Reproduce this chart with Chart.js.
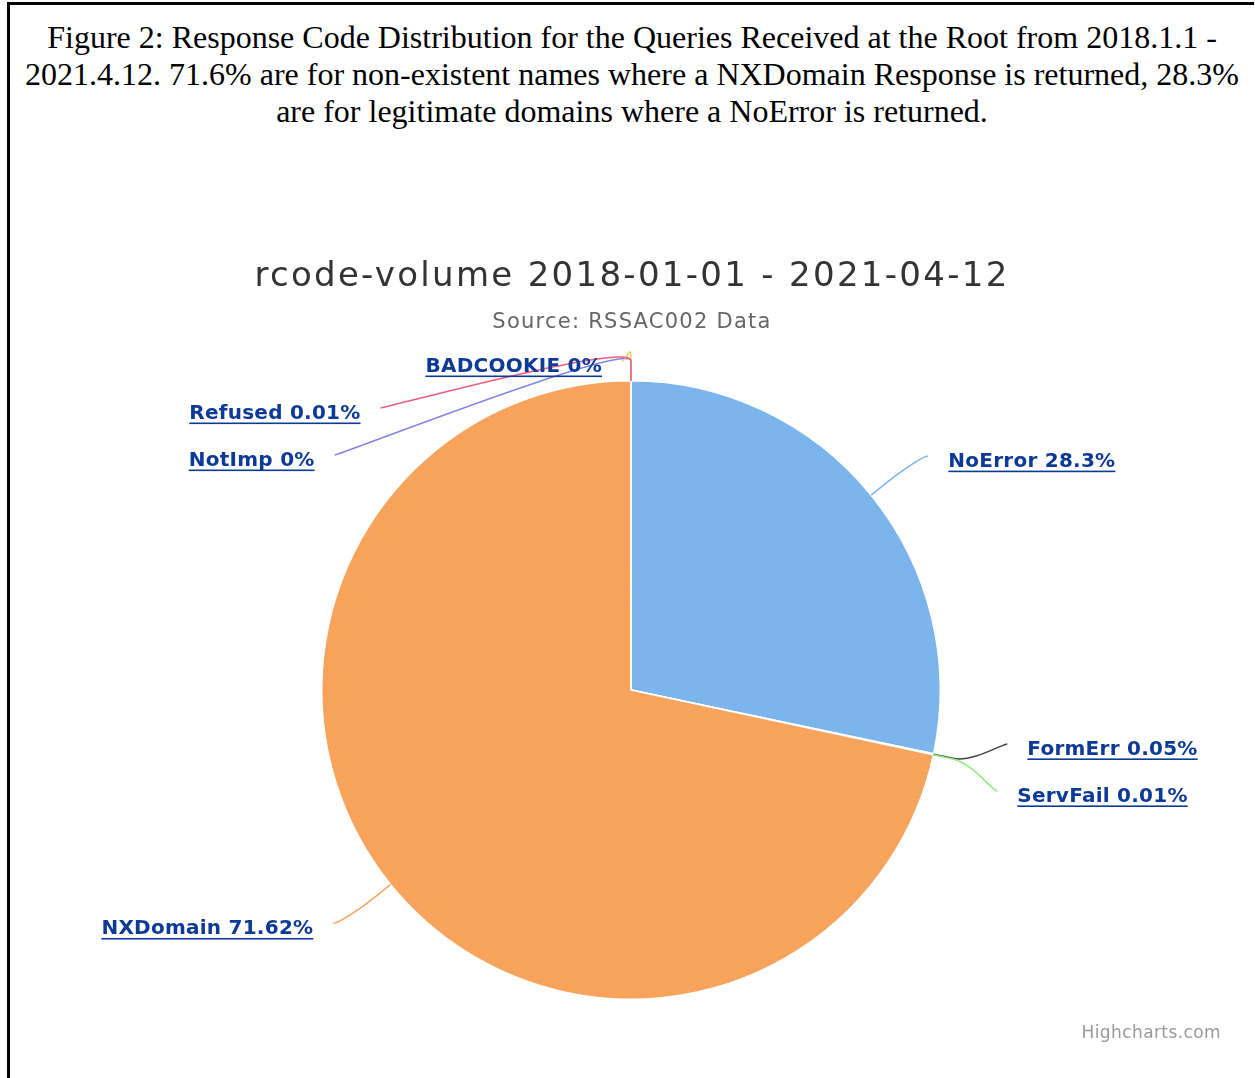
<!DOCTYPE html>
<html>
<head>
<meta charset="utf-8">
<title>rcode-volume</title>
<script src="https://cdn.jsdelivr.net/npm/chart.js@4.4.1/dist/chart.umd.min.js"></script>
<style>
    html, body { margin: 0; padding: 0; background: #fff; width: 1255px; height: 1078px; overflow: hidden; }
    #figure { position: absolute; left: 7px; top: 2px; width: 1244px; height: 1100px; border-left: 3px solid #000; border-top: 3px solid #000; }
    #caption { font-family: "Liberation Serif", "Times New Roman", serif; font-size: 32px; line-height: 37px; text-align: center; margin-top: 14px; color: #000; white-space: nowrap; }
    #chart { position: absolute; left: 10px; top: 200px; }
</style>
</head>
<body>
<div id="figure">
    <div id="caption">Figure 2: Response Code Distribution for the Queries Received at the Root from 2018.1.1 -<br>2021.4.12. 71.6% are for non-existent names where a NXDomain Response is returned, 28.3%<br>are for legitimate domains where a NoError is returned.</div>
</div>
<canvas id="chart" width="1245" height="878"></canvas>

<script>
// response codes, in drawing order (clockwise from 12 o'clock)
const rcodes = ['NoError', 'FormErr', 'ServFail', 'NXDomain', 'NotImp', 'Refused', 'BADCOOKIE']
const shares = [28.3, 0.05, 0.01, 71.62, 0, 0.01, 0]

const chartTitle = 'rcode-volume 2018-01-01 - 2021-04-12'
const chartSubtitle = 'Source: RSSAC002 Data'

const sliceColors = ['#7cb5ec', '#434348', '#90ed7d', '#f7a35c', '#8085e9', '#f15c80', '#e4d354']

// stack labels of one side so they don't overlap
function spread(list, gap, minY, maxY) {
    const place = g => {
        const ys = g.items.map(it => it.naturalY)
        const mid = (Math.min(...ys) + Math.max(...ys)) / 2
        g.top = mid - (g.items.length - 1) * gap / 2
        g.top = Math.max(minY, Math.min(g.top, maxY - (g.items.length - 1) * gap))
    }
    const groups = list.map(it => ({ items: [it] }))
    groups.forEach(place)
    let merged = true
    while (merged) {
        merged = false
        for (let k = 0; k < groups.length - 1; k++) {
            const a = groups[k], b = groups[k + 1]
            if (a.top + a.items.length * gap > b.top) {
                a.items = a.items.concat(b.items)
                groups.splice(k + 1, 1)
                place(a)
                merged = true
                break
            }
        }
    }
    groups.forEach(g => g.items.forEach((it, n) => {
        it.y = g.top + n * gap
        it.edge = it.y <= minY + 0.5 || it.y >= maxY - 0.5
    }))
}

// highcharts-like data labels with soft connectors
const pieLabels = {
    id: 'pieLabels',
    afterDatasetsDraw(chart, args, opts) {
        const meta = chart.getDatasetMeta(0)
        const ctx = chart.ctx
        const { x: cx, y: cy, outerRadius: r } = meta.data[0]
        const R = r + opts.distance
        const minY = chart.chartArea.top + opts.edgeOffset
        const maxY = chart.chartArea.bottom - opts.edgeOffset

        const items = meta.data.map((arc, i) => {
            const a = (arc.startAngle + arc.endAngle) / 2 + Math.PI / 2
            const rb = r + opts.breakAt
            return {
                i, a,
                empty: shares[i] === 0,
                left: a > Math.PI,
                naturalY: cy - R * Math.cos(a),
                touch: { x: cx + r * Math.sin(a), y: cy - r * Math.cos(a) },
                brk: { x: cx + rb * Math.sin(a), y: cy - rb * Math.cos(a) }
            }
        })
        const rightSide = items.filter(it => !it.left).sort((p, q) => p.a - q.a)
        const leftSide = items.filter(it => it.left).sort((p, q) => q.a - p.a)
        spread(rightSide, opts.gap, minY, maxY)
        spread(leftSide, opts.gap, minY, maxY)

        const getX = (y, left) => {
            const s = Math.max(-1, Math.min(1, (y - cy) / R))
            return cx + (left ? -1 : 1) * R * Math.sqrt(1 - s * s)
        }
        items.forEach(it => { it.ax = getX(it.edge ? it.naturalY : it.y, it.left) })

        ctx.save()
        // connectors of empty slices go underneath
        const order = items.filter(it => it.empty).concat(items.filter(it => !it.empty))
        order.forEach(it => {
            const dir = it.left ? -1 : 1
            const sx = it.ax + dir * opts.connectorGap
            ctx.beginPath()
            ctx.moveTo(sx, it.y)
            ctx.bezierCurveTo(sx - dir * 5, it.y,
                2 * it.brk.x - it.touch.x, 2 * it.brk.y - it.touch.y,
                it.brk.x, it.brk.y)
            ctx.lineTo(it.touch.x, it.touch.y)
            ctx.strokeStyle = sliceColors[it.i]
            ctx.lineWidth = 1.5
            ctx.stroke()
        })
        items.forEach(it => {
            const dir = it.left ? -1 : 1
            const text = `${rcodes[it.i]} ${shares[it.i]}%`
            const ty = it.y + 4
            ctx.font = opts.font
            ctx.letterSpacing = '0.25px'
            ctx.fillStyle = opts.color
            ctx.textAlign = it.left ? 'right' : 'left'
            ctx.textBaseline = 'alphabetic'
            const tx = it.ax + dir * opts.textGap
            ctx.fillText(text, tx, ty + 7)
            const w = ctx.measureText(text).width
            ctx.fillRect(it.left ? tx - w : tx, ty + 10.5, w, 1.6)
        })
        ctx.restore()
    },
    // title, subtitle and credits
    afterDraw(chart) {
        const ctx = chart.ctx
        const mid = (chart.chartArea.left + chart.chartArea.right) / 2
        ctx.save()
        ctx.textAlign = 'center'
        ctx.textBaseline = 'alphabetic'
        ctx.font = '34px "DejaVu Sans"'
        ctx.letterSpacing = '2.3px'
        ctx.fillStyle = '#333333'
        ctx.fillText(chartTitle, mid + 1, 86)
        ctx.font = '21px "DejaVu Sans"'
        ctx.letterSpacing = '1.25px'
        ctx.fillStyle = '#666666'
        ctx.fillText(chartSubtitle, mid + 1, 128)

        ctx.font = '17px "DejaVu Sans"'
        ctx.letterSpacing = '0.4px'
        ctx.fillStyle = '#999999'
        ctx.textAlign = 'right'
        ctx.textBaseline = 'middle'
        ctx.fillText('Highcharts.com', chart.width - 34, chart.height - 44)
        ctx.restore()
    }
}

const ctx = document.getElementById('chart').getContext('2d')
new Chart(ctx, {
    type: 'pie',
    data: {
        labels: rcodes,
        datasets: [{
            data: shares,
            backgroundColor: sliceColors,
            borderColor: '#ffffff',
            borderWidth: 1.5,
            hoverOffset: 0
        }]
    },
    options: {
        responsive: false,
        animation: false,
        events: [],
        layout: { padding: { left: 311, right: 314, top: 180, bottom: 78 } },
        plugins: {
            legend: { display: false },
            tooltip: { enabled: false },
            pieLabels: {
                distance: 62,
                breakAt: 20,
                edgeOffset: -19,
                gap: 47,
                connectorGap: 9,
                textGap: 29,
                font: 'bold 20px "DejaVu Sans"',
                color: '#0d3a97'
            }
        }
    },
    plugins: [pieLabels]
})
</script>
</body>
</html>
